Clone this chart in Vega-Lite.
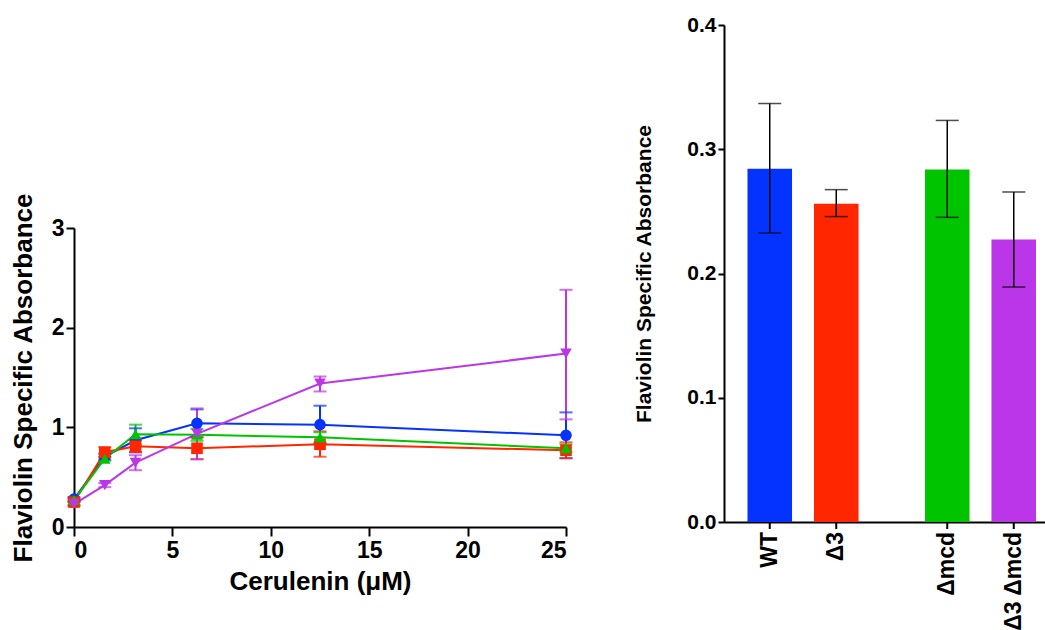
{
  "$schema": "https://vega.github.io/schema/vega-lite/v6.json",
  "padding": {"left": 10, "top": 14, "right": 0, "bottom": 0},
  "background": "white",
  "center": false,
  "config": {
    "font": "Liberation Sans",
    "view": {"stroke": null},
    "axis": {
      "labelFont": "Liberation Sans",
      "titleFont": "Liberation Sans",
      "labelFontWeight": "bold",
      "titleFontWeight": "bold",
      "labelColor": "black",
      "titleColor": "black",
      "domainColor": "black",
      "tickColor": "black",
      "grid": false,
      "domainWidth": 2,
      "tickWidth": 2
    }
  },
  "datasets": {
    "curve": [
      {"strain": "WT", "conc": 0, "mean": 0.28, "lo": 0.26, "hi": 0.30},
      {"strain": "WT", "conc": 1.5625, "mean": 0.705, "lo": 0.675, "hi": 0.735},
      {"strain": "WT", "conc": 3.125, "mean": 0.87, "lo": 0.75, "hi": 0.99},
      {"strain": "WT", "conc": 6.25, "mean": 1.04, "lo": 0.90, "hi": 1.18},
      {"strain": "WT", "conc": 12.5, "mean": 1.027, "lo": 0.837, "hi": 1.217},
      {"strain": "WT", "conc": 25, "mean": 0.92, "lo": 0.69, "hi": 1.15},
      {"strain": "Δ3", "conc": 0, "mean": 0.25, "lo": 0.22, "hi": 0.28},
      {"strain": "Δ3", "conc": 1.5625, "mean": 0.75, "lo": 0.70, "hi": 0.80},
      {"strain": "Δ3", "conc": 3.125, "mean": 0.81, "lo": 0.75, "hi": 0.87},
      {"strain": "Δ3", "conc": 6.25, "mean": 0.79, "lo": 0.68, "hi": 0.90},
      {"strain": "Δ3", "conc": 12.5, "mean": 0.83, "lo": 0.705, "hi": 0.96},
      {"strain": "Δ3", "conc": 25, "mean": 0.77, "lo": 0.69, "hi": 0.85},
      {"strain": "Δmcd", "conc": 0, "mean": 0.27, "lo": 0.25, "hi": 0.29},
      {"strain": "Δmcd", "conc": 1.5625, "mean": 0.685, "lo": 0.665, "hi": 0.705},
      {"strain": "Δmcd", "conc": 3.125, "mean": 0.93, "lo": 0.83, "hi": 1.027},
      {"strain": "Δmcd", "conc": 6.25, "mean": 0.925, "lo": 0.865, "hi": 0.985},
      {"strain": "Δmcd", "conc": 12.5, "mean": 0.90, "lo": 0.85, "hi": 0.95},
      {"strain": "Δmcd", "conc": 25, "mean": 0.79, "lo": 0.75, "hi": 0.83},
      {"strain": "Δ3 Δmcd", "conc": 0, "mean": 0.23, "lo": 0.21, "hi": 0.25},
      {"strain": "Δ3 Δmcd", "conc": 1.5625, "mean": 0.42, "lo": 0.40, "hi": 0.44},
      {"strain": "Δ3 Δmcd", "conc": 3.125, "mean": 0.645, "lo": 0.57, "hi": 0.72},
      {"strain": "Δ3 Δmcd", "conc": 6.25, "mean": 0.935, "lo": 0.68, "hi": 1.19},
      {"strain": "Δ3 Δmcd", "conc": 12.5, "mean": 1.44, "lo": 1.36, "hi": 1.51},
      {"strain": "Δ3 Δmcd", "conc": 25, "mean": 1.74, "lo": 1.08, "hi": 2.38}
    ],
    "bars": [
      {"strain": "WT", "mcd": "mcd+", "d3": "no", "mean": 0.2844, "lo": 0.2326, "hi": 0.3368},
      {"strain": "Δ3", "mcd": "mcd+", "d3": "yes", "mean": 0.2562, "lo": 0.2458, "hi": 0.2675},
      {"strain": "Δmcd", "mcd": "Δmcd", "d3": "no", "mean": 0.2837, "lo": 0.2452, "hi": 0.3232},
      {"strain": "Δ3 Δmcd", "mcd": "Δmcd", "d3": "yes", "mean": 0.2274, "lo": 0.1891, "hi": 0.2656}
    ]
  },
  "spacing": 60,
  "hconcat": [
    {
      "spacing": 0,
      "center": false,
      "vconcat": [
        {
          "width": 10,
          "height": 167,
          "data": {"values": []},
          "mark": "point",
          "encoding": {}
        },
        {
          "width": 492,
          "height": 299,
          "data": {"name": "curve"},
          "encoding": {
            "x": {
              "field": "conc",
              "type": "quantitative",
              "scale": {"domain": [0, 25], "nice": false, "zero": true},
              "axis": {
                "values": [0, 5, 10, 15, 20, 25],
                "format": "d",
                "title": "Cerulenin (μM)",
                "labelFontSize": 23,
                "titleFontSize": 26,
                "tickSize": 9,
                "labelPadding": 3,
                "titlePadding": 6
              }
            },
            "color": {
              "field": "strain",
              "type": "nominal",
              "scale": {
                "domain": ["WT", "Δ3", "Δmcd", "Δ3 Δmcd"],
                "range": ["#0433ff", "#ff2600", "#00c400", "#bb36e8"]
              },
              "legend": null
            }
          },
          "layer": [
            {
              "mark": {"type": "line", "strokeWidth": 2},
              "encoding": {
                "y": {
                  "field": "mean",
                  "type": "quantitative",
                  "scale": {"domain": [0, 3], "nice": false},
                  "axis": {
                    "values": [0, 1, 2, 3],
                    "format": "d",
                    "title": "Flaviolin Specific Absorbance",
                    "labelFontSize": 23,
                    "titleFontSize": 26,
                    "tickSize": 8,
                    "labelPadding": 2,
                    "titlePadding": 15
                  }
                }
              }
            },
            {
              "mark": {"type": "rule", "strokeWidth": 2},
              "encoding": {
                "y": {"field": "lo", "type": "quantitative", "title": "Flaviolin Specific Absorbance"},
                "y2": {"field": "hi"}
              }
            },
            {
              "mark": {"type": "tick", "orient": "horizontal", "size": 13, "thickness": 2},
              "encoding": {
                "y": {"field": "lo", "type": "quantitative", "title": "Flaviolin Specific Absorbance"}
              }
            },
            {
              "mark": {"type": "tick", "orient": "horizontal", "size": 13, "thickness": 2},
              "encoding": {
                "y": {"field": "hi", "type": "quantitative", "title": "Flaviolin Specific Absorbance"}
              }
            },
            {
              "mark": {"type": "point", "filled": true, "size": 135, "opacity": 1},
              "encoding": {
                "y": {"field": "mean", "type": "quantitative", "title": "Flaviolin Specific Absorbance"},
                "shape": {
                  "field": "strain",
                  "type": "nominal",
                  "scale": {
                    "domain": ["WT", "Δ3", "Δmcd", "Δ3 Δmcd"],
                    "range": ["circle", "square", "triangle-up", "triangle-down"]
                  },
                  "legend": null
                }
              }
            }
          ]
        }
      ]
    },
    {
      "width": 323,
      "height": 497,
      "data": {"name": "bars"},
      "encoding": {
        "x": {
          "field": "mcd",
          "type": "nominal",
          "scale": {"domain": ["mcd+", "Δmcd"], "paddingInner": 0.2507, "paddingOuter": 0.0352, "align": 1},
          "axis": {"title": null, "labels": false, "ticks": false, "domainWidth": 2}
        },
        "xOffset": {
          "field": "d3",
          "type": "nominal",
          "scale": {"domain": ["no", "yes"], "paddingInner": 0.33, "paddingOuter": 0.165}
        }
      },
      "layer": [
        {
          "mark": {"type": "bar"},
          "encoding": {
            "y": {
              "field": "mean",
              "type": "quantitative",
              "scale": {"domain": [0, 0.4], "nice": false},
              "axis": {
                "values": [0, 0.1, 0.2, 0.3, 0.4],
                "format": ".1f",
                "title": "Flaviolin Specific Absorbance",
                "labelFontSize": 21,
                "titleFontSize": 21,
                "tickSize": 6,
                "labelPadding": 2,
                "titlePadding": 32
              }
            },
            "color": {
              "field": "strain",
              "type": "nominal",
              "scale": {
                "domain": ["WT", "Δ3", "Δmcd", "Δ3 Δmcd"],
                "range": ["#0433ff", "#ff2600", "#00c400", "#bb36e8"]
              },
              "legend": null
            }
          }
        },
        {
          "mark": {"type": "rule", "strokeWidth": 1.5, "color": "black"},
          "encoding": {
            "y": {"field": "lo", "type": "quantitative", "title": "Flaviolin Specific Absorbance"},
            "y2": {"field": "hi"}
          }
        },
        {
          "mark": {"type": "tick", "orient": "horizontal", "size": 23, "thickness": 1.5, "color": "black"},
          "encoding": {
            "y": {"field": "lo", "type": "quantitative", "title": "Flaviolin Specific Absorbance"}
          }
        },
        {
          "mark": {"type": "tick", "orient": "horizontal", "size": 23, "thickness": 1.5, "color": "black"},
          "encoding": {
            "y": {"field": "hi", "type": "quantitative", "title": "Flaviolin Specific Absorbance"}
          }
        },
        {
          "mark": {"type": "rule", "strokeWidth": 2, "color": "black", "y2Offset": 7},
          "encoding": {
            "y": {"datum": 0, "type": "quantitative"},
            "y2": {"datum": 0}
          }
        },
        {
          "mark": {"type": "text", "angle": 270, "align": "right", "baseline": "middle", "fontSize": 23, "fontWeight": "bold", "color": "black", "yOffset": 10, "font": "Liberation Sans"},
          "encoding": {
            "y": {"datum": 0, "type": "quantitative"},
            "text": {"field": "strain"}
          }
        }
      ]
    }
  ]
}
